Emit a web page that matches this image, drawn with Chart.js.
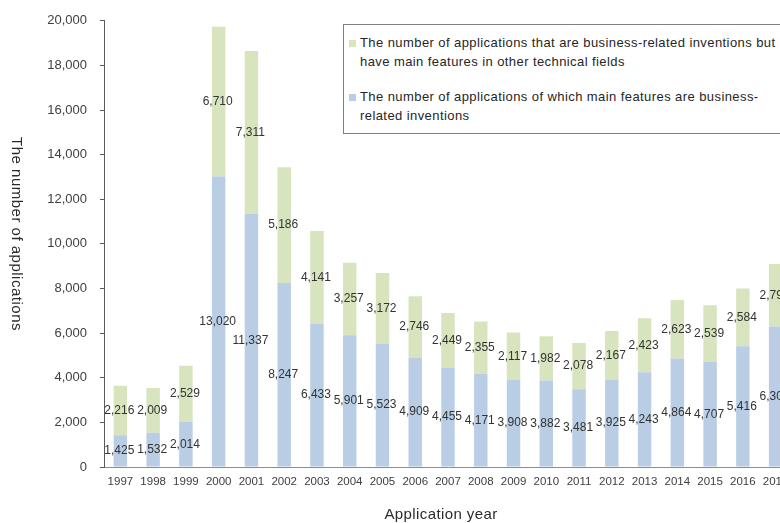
<!DOCTYPE html>
<html><head><meta charset="utf-8">
<script src="https://cdn.jsdelivr.net/npm/chart.js@4"></script>
<style>
html,body{margin:0;padding:0;background:#fff;overflow:hidden;width:780px;height:523px;}
#wrap{position:absolute;left:0;top:0;width:800px;height:523px;}
#legend{position:absolute;left:343px;top:24px;width:440px;height:110px;border:1px solid #808080;background:#fff;font-family:"Liberation Sans",Arial,sans-serif;font-size:13px;letter-spacing:0.42px;color:#262626;box-sizing:border-box;}
.item{position:absolute;left:5px;}
.sw{position:absolute;left:0;top:6px;width:7px;height:7px;}
.txt{position:absolute;left:11px;top:0;line-height:18.5px;white-space:nowrap;}
</style></head>
<body>
<div id="wrap"><canvas id="c" width="800" height="523"></canvas></div>
<div id="legend"></div>
<script>
const years = ["1997","1998","1999","2000","2001","2002","2003","2004","2005","2006","2007","2008","2009","2010","2011","2012","2013","2014","2015","2016","2017"];
const mainFeature = [1425,1532,2014,13020,11337,8247,6433,5901,5523,4909,4455,4171,3908,3882,3481,3925,4243,4864,4707,5416,6303];
const otherField = [2216,2009,2529,6710,7311,5186,4141,3257,3172,2746,2449,2355,2117,1982,2078,2167,2423,2623,2539,2584,2795];
const mainLabel = ["The number of applications of which main features are business-", "related inventions"];
const otherLabel = ["The number of applications that are business-related inventions but", "have main features in other technical fields"];
const yTicks = [0,2000,4000,6000,8000,10000,12000,14000,16000,18000,20000];
const xTitle = "Application year";
const yTitle = "The number of applications";

const FONT = '"Liberation Sans", Arial, sans-serif';
const fmt = v => v.toLocaleString('en-US');

const labelPlugin = {
  id: 'valLabels',
  afterDatasetsDraw(chart) {
    const ctx = chart.ctx;
    ctx.save();
    ctx.font = '12px ' + FONT;
    ctx.fillStyle = '#333333';
    ctx.textAlign = 'center';
    ctx.textBaseline = 'middle';
    chart.data.datasets.forEach((ds, di) => {
      const meta = chart.getDatasetMeta(di);
      meta.data.forEach((el, i) => {
        const y = (el.y + el.base) / 2;
        ctx.fillText(fmt(ds.data[i]), el.x - 1, y);
      });
    });
    ctx.restore();
  },
  afterDraw(chart) {
    const ctx = chart.ctx;
    ctx.save();
    ctx.fillStyle = '#2b2b2b';
    ctx.textAlign = 'center';
    ctx.textBaseline = 'middle';
    ctx.font = '15px ' + FONT;
    if ('letterSpacing' in ctx) ctx.letterSpacing = '0.4px';
    ctx.fillText(xTitle, 441, 515);
    ctx.translate(16, 234);
    ctx.rotate(Math.PI / 2);
    ctx.font = '15px ' + FONT;
    if ('letterSpacing' in ctx) ctx.letterSpacing = '0.5px';
    ctx.fillText(yTitle, 0, 0);
    ctx.restore();
  }
};

const chart = new Chart(document.getElementById('c'), {
  type: 'bar',
  data: {
    labels: years,
    datasets: [
      { label: mainLabel.join(''), data: mainFeature, backgroundColor: '#b9cde5', barPercentage: 0.41, categoryPercentage: 1 },
      { label: otherLabel.join(' '), data: otherField, backgroundColor: '#d7e4bd', barPercentage: 0.41, categoryPercentage: 1 }
    ]
  },
  options: {
    responsive: false,
    animation: false,
    layout: { padding: { top: 19, right: 8, left: 0, bottom: 0 } },
    plugins: { legend: { display: false }, tooltip: { enabled: false } },
    scales: {
      x: {
        stacked: true,
        grid: { display: false, drawTicks: false },
        border: { display: true, color: '#8c8c8c', width: 1 },
        ticks: { font: { family: FONT, size: 11.5 }, color: '#404040', padding: 8, maxRotation: 0, autoSkip: false },
        afterFit(s) { s.height = 56; }
      },
      y: {
        stacked: true,
        min: 0, max: 20000,
        afterBuildTicks(s) { s.ticks = yTicks.map(v => ({ value: v })); },
        grid: { drawOnChartArea: false, drawTicks: true, tickLength: 4, color: '#595959' },
        border: { display: true, color: '#595959', width: 1 },
        ticks: { font: { family: FONT, size: 13 }, color: '#404040', padding: 13, callback: v => fmt(v) },
        afterFit(s) { s.width = 104; }
      }
    }
  },
  plugins: [labelPlugin]
});

// HTML legend built from datasets (green first, as in reference)
const legend = document.getElementById('legend');
const entries = [
  { color: chart.data.datasets[1].backgroundColor, lines: otherLabel, top: 9 },
  { color: chart.data.datasets[0].backgroundColor, lines: mainLabel, top: 63 }
];
entries.forEach(e => {
  const it = document.createElement('div');
  it.className = 'item';
  it.style.top = e.top + 'px';
  const sw = document.createElement('div');
  sw.className = 'sw';
  sw.style.background = e.color;
  const tx = document.createElement('div');
  tx.className = 'txt';
  tx.innerHTML = e.lines.map(l => l.replace(/&/g,'&amp;')).join('<br>');
  it.appendChild(sw); it.appendChild(tx);
  legend.appendChild(it);
});
</script>
</body></html>
